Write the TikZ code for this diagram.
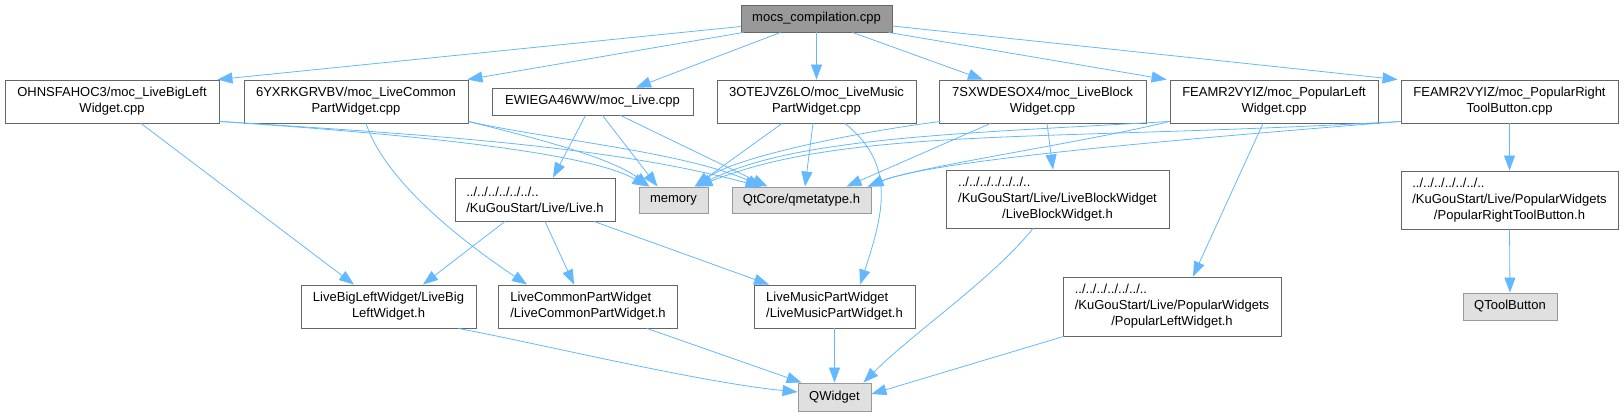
\documentclass[tikz,border=0pt]{standalone}
\usepackage{fontspec}
\setmainfont{Liberation Sans}
\usetikzlibrary{arrows.meta,positioning,calc}
\definecolor{EdgeBlue}{RGB}{99,184,255}
\definecolor{BoxLine}{RGB}{102,102,102}
\definecolor{RootFill}{RGB}{153,153,153}
\definecolor{ExtFill}{RGB}{224,224,224}
\definecolor{ExtLine}{RGB}{153,153,153}
\newcommand{\dotline}[2]{\rlap{#1}\phantom{#2}}
\tikzset{
  filebox/.style={draw=BoxLine,line width=0.9pt,fill=white,inner sep=0pt,
    align=center,font=\fontsize{13}{16}\selectfont},
  rootbox/.style={filebox,fill=RootFill},
  extbox/.style={filebox,draw=ExtLine,fill=ExtFill},
  incarrow/.style={-{Triangle[length=15pt,width=11pt]},line width=0.8pt,draw=EdgeBlue},
}
\begin{document}
\begin{tikzpicture}[x=1pt,y=-1pt]
  \useasboundingbox (0,0) rectangle (1624,416);
  % top file
  \node[rootbox,minimum width=151pt,minimum height=27pt] (mocs) at (816.5,18.5) {mocs\_compilation.cpp};
  % moc sources
  \node[filebox,minimum width=214pt,minimum height=43pt] (ohns) at (112,101.5) {OHNSFAHOC3/moc\_LiveBigLeft\\Widget.cpp};
  \node[filebox,minimum width=224pt,minimum height=43pt] (yxr) at (356,101.5) {6YXRKGRVBV/moc\_LiveCommon\\PartWidget.cpp};
  \node[filebox,minimum width=201pt,minimum height=27pt] (ewie) at (592.5,101.5) {EWIEGA46WW/moc\_Live.cpp};
  \node[filebox,minimum width=199pt,minimum height=43pt] (otej) at (816.5,101.5) {3OTEJVZ6LO/moc\_LiveMusic\\PartWidget.cpp};
  \node[filebox,minimum width=207pt,minimum height=43pt] (sxwd) at (1042.5,101.5) {7SXWDESOX4/moc\_LiveBlock\\Widget.cpp};
  \node[filebox,minimum width=208pt,minimum height=43pt] (popl) at (1274,101.5) {FEAMR2VYIZ/moc\_PopularLeft\\Widget.cpp};
  \node[filebox,minimum width=217pt,minimum height=43pt] (popr) at (1509.5,101.5) {FEAMR2VYIZ/moc\_PopularRight\\ToolButton.cpp};
  % headers
  \node[filebox,align=left,minimum width=160pt,minimum height=43pt] (liveh) at (535,199.5) {../../../../../../..\\/KuGouStart/Live/Live.h};
  \node[extbox,minimum width=69pt,minimum height=26pt] (memory) at (673.5,200) {memory};
  \node[extbox,minimum width=139pt,minimum height=26pt] (qmeta) at (801.5,200) {QtCore/qmetatype.h};
  \node[filebox,minimum width=223pt,minimum height=58pt] (blockh) at (1057.5,199) {\dotline{../../../../../../..}{/KuGouStart/Live/LiveBlockWidget}\\/KuGouStart/Live/LiveBlockWidget\\/LiveBlockWidget.h};
  \node[filebox,minimum width=217pt,minimum height=58pt] (poprh) at (1509.5,200) {\dotline{../../../../../../..}{/KuGouStart/Live/PopularWidgets}\\/KuGouStart/Live/PopularWidgets\\/PopularRightToolButton.h};
  \node[filebox,minimum width=175pt,minimum height=43pt] (bigh) at (388.5,306.5) {LiveBigLeftWidget/LiveBig\\LeftWidget.h};
  \node[filebox,align=left,minimum width=179pt,minimum height=43pt] (commonh) at (588,306.5) {LiveCommonPartWidget\\/LiveCommonPartWidget.h};
  \node[filebox,align=left,minimum width=161pt,minimum height=43pt] (musich) at (834.5,306.5) {LiveMusicPartWidget\\/LiveMusicPartWidget.h};
  \node[filebox,minimum width=218pt,minimum height=59pt] (poplh) at (1172,306.5) {\dotline{../../../../../../..}{/KuGouStart/Live/PopularWidgets}\\/KuGouStart/Live/PopularWidgets\\/PopularLeftWidget.h};
  \node[extbox,minimum width=94pt,minimum height=27pt] (qtool) at (1510,306.5) {QToolButton};
  \node[extbox,minimum width=73pt,minimum height=28pt] (qwidget) at (834.5,397) {QWidget};

  % mocs_compilation includes
  \draw[incarrow] ([yshift=-8pt]mocs.west) -- ([xshift=-2pt]ohns.north east);
  \draw[incarrow] ([xshift=3pt]mocs.south west) -- ([xshift=-1pt]yxr.north east);
  \draw[incarrow] ([xshift=40pt]mocs.south west) -- ([xshift=43.5pt]ewie.north);
  \draw[incarrow] (mocs.south) -- (otej.north);
  \draw[incarrow] ([xshift=36pt]mocs.south) -- ([xshift=-59.5pt]sxwd.north);
  \draw[incarrow] ([xshift=-4pt]mocs.south east) -- ([xshift=-3pt]popl.north west);
  \draw[incarrow] ([yshift=-7.5pt]mocs.east) -- ([xshift=-3pt]popr.north west);

  % moc sources to headers
  \draw[incarrow] ([yshift=2pt]ohns.south east) .. controls +(180,12) and +(-60,-35) .. ([xshift=-26pt]memory.north);
  \draw[incarrow] ([yshift=2pt]ohns.south east) .. controls +(220,14) and +(-150,-40) .. ([xshift=-41pt]qmeta.north);
  \draw[incarrow] ([xshift=29pt]ohns.south) -- ([xshift=-34.5pt]bigh.north);
  \draw[incarrow] ([yshift=2pt]yxr.south east) .. controls +(60,15) and +(-40,-30) .. ([xshift=-24pt]memory.north);
  \draw[incarrow] ([yshift=2pt]yxr.south east) .. controls +(80,18) and +(-80,-35) .. ([xshift=-39pt]qmeta.north);
  \draw[incarrow] ([xshift=10pt]yxr.south) .. controls +(20,60) and +(-60,-40) .. ([xshift=-61pt]commonh.north);
  \draw[incarrow] ([xshift=-7pt]ewie.south) -- ([xshift=18pt]liveh.north);
  \draw[incarrow] ([xshift=10pt]ewie.south) -- ([xshift=-16pt]memory.north);
  \draw[incarrow] ([xshift=28pt]ewie.south) -- ([xshift=-34pt]qmeta.north);
  \draw[incarrow] ([xshift=-34.5pt]otej.south) -- ([xshift=21pt]memory.north);
  \draw[incarrow] ([xshift=-3.5pt]otej.south) -- ([xshift=3.5pt]qmeta.north);
  \draw[incarrow] ([xshift=28.5pt]otej.south) .. controls +(50,40) and +(25,-75) .. ([xshift=25.5pt]musich.north);
  \draw[incarrow] ([xshift=2pt,yshift=2pt]sxwd.south west) .. controls +(-80,10) and +(40,-30) .. ([xshift=22pt]memory.north);
  \draw[incarrow] ([xshift=-52pt]sxwd.south) -- ([xshift=45pt]qmeta.north);
  \draw[incarrow] ([xshift=4.5pt]sxwd.south) -- ([xshift=-4.5pt]blockh.north);
  \draw[incarrow] ([yshift=2pt]popl.south west) .. controls +(-200,12) and +(100,-50) .. ([xshift=23pt]memory.north);
  \draw[incarrow] ([yshift=2pt]popl.south west) .. controls +(-90,22) and +(50,-20) .. ([xshift=66pt]qmeta.north);
  \draw[incarrow] ([xshift=-11pt]popl.south) -- ([xshift=21pt]poplh.north);
  \draw[incarrow] ([yshift=2pt]popr.south west) .. controls +(-350,20) and +(150,-60) .. ([xshift=24pt]memory.north);
  \draw[incarrow] ([yshift=2pt]popr.south west) .. controls +(-250,20) and +(60,-25) .. ([xshift=67pt]qmeta.north);
  \draw[incarrow] (popr.south) -- (poprh.north);

  % header to header
  \draw[incarrow] ([xshift=-30pt]liveh.south) -- ([xshift=34.5pt]bigh.north);
  \draw[incarrow] ([xshift=10pt]liveh.south) -- ([xshift=-14pt]commonh.north);
  \draw[incarrow] ([xshift=59pt]liveh.south) -- ([xshift=-65.5pt]musich.north);
  \draw[incarrow] ([xshift=70pt]bigh.south) .. controls +(80,15) and +(-100,-10) .. ([yshift=5pt]qwidget.west);
  \draw[incarrow] ([xshift=59pt]commonh.south) -- ([xshift=4pt]qwidget.north west);
  \draw[incarrow] (musich.south) -- (qwidget.north);
  \draw[incarrow] ([xshift=-24.5pt]blockh.south) .. controls +(-40,50) and +(50,-50) .. ([xshift=-8pt]qwidget.north east);
  \draw[incarrow] ([xshift=1pt]poplh.south west) -- ([yshift=3pt]qwidget.east);
  \draw[incarrow] (poprh.south) -- (qtool.north);
\end{tikzpicture}
\end{document}
